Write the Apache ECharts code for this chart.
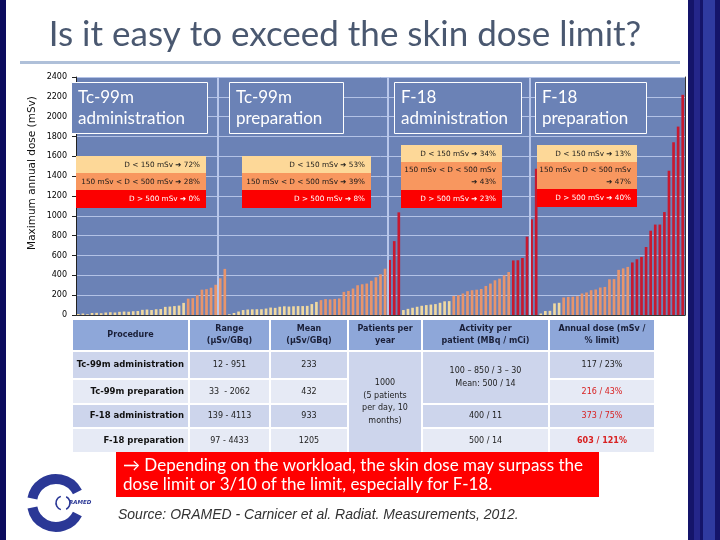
<!DOCTYPE html>
<html><head><meta charset="utf-8">
<script src="https://cdn.jsdelivr.net/npm/echarts@6/dist/echarts.min.js"></script>
<style>html,body{margin:0;padding:0;background:#fff}#c{width:720px;height:540px}</style>
</head><body><div id="c"></div>
<script>
// ---------------- DATA ----------------
const titleText = 'Is it easy to exceed the skin dose limit?';
const yAxisName = 'Maximum annual dose (mSv)';
const groupNames = ['Tc-99m\nadministration', 'Tc-99m\npreparation', 'F-18\nadministration', 'F-18\npreparation'];

const tcAdminValues = [10, 15, 8, 20, 22, 18, 25, 28, 25, 32, 35, 33, 38, 40, 52, 55, 50, 58, 60, 82, 85, 90, 95, 122,
  165, 170, 200, 255, 260, 275, 305, 370, 465];
const tcPrepValues = [8, 20, 35, 50, 55, 57, 58, 58, 65, 75, 72, 83, 88, 85, 88, 90, 90, 92, 110, 132,
  150, 160, 157, 162, 167, 233, 243, 267, 300, 310, 317, 345, 380, 410, 467,
  555, 745, 1035];
const f18AdminValues = [50, 62, 73, 83, 93, 100, 105, 110, 123, 138, 140,
  193, 200, 217, 240, 250, 255, 262, 293, 317, 350, 367, 400, 433,
  550, 552, 575, 790, 965, 1475];
const f18PrepValues = [15, 40, 42, 117, 123,
  177, 183, 185, 190, 217, 227, 250, 257, 277, 283, 360, 362, 455, 470, 485,
  530, 562, 586, 686, 850, 912, 912, 1038, 1455, 1742, 1900, 2220];

const doseThresholds = [150, 500];
const pctLabels = [
  ['D < 150 mSv ➔ 72%', '150 mSv < D < 500 mSv ➔ 28%', 'D > 500 mSv ➔ 0%'],
  ['D < 150 mSv ➔ 53%', '150 mSv < D < 500 mSv ➔ 39%', 'D > 500 mSv ➔ 8%'],
  ['D < 150 mSv ➔ 34%', '150 mSv < D < 500 mSv\n➔ 43%', 'D > 500 mSv ➔ 23%'],
  ['D < 150 mSv ➔ 13%', '150 mSv < D < 500 mSv\n➔ 47%', 'D > 500 mSv ➔ 40%']
];

const tableHeader = ['Procedure', 'Range\n(µSv/GBq)', 'Mean\n(µSv/GBq)', 'Patients per\nyear', 'Activity per\npatient (MBq / mCi)', 'Annual dose (mSv /\n% limit)'];
const procedures = ['Tc-99m administration', 'Tc-99m preparation', 'F-18 administration', 'F-18 preparation'];
const ranges = ['12 - 951', '33  - 2062', '139 - 4113', '97 - 4433'];
const means = ['233', '432', '933', '1205'];
const patientsText = '1000\n(5 patients\nper day, 10\nmonths)';
const activityText = ['100 – 850 / 3 – 30\nMean: 500 / 14', '400 / 11', '500 / 14'];
const annualDose = ['117 / 23%', '216 / 43%', '373 / 75%', '603 / 121%'];

const noteText = '→ Depending on the workload, the skin dose may surpass the\ndose limit or 3/10 of the limit, especially for F-18.';
const sourceText = 'Source: ORAMED - Carnicer et al. Radiat. Measurements, 2012.';
const separatorIdx = [31, 68, 99];

// ---------------- BUILD ----------------
const allValues = [].concat(tcAdminValues, tcPrepValues, f18AdminValues, f18PrepValues);
const categories = allValues.map((_, i) => String(i + 1));
function barColor(v) { return v > doseThresholds[1] ? '#c8192f' : (v >= doseThresholds[0] ? '#e8956c' : '#f1d9a0'); }
const barData = allValues.map(v => ({ value: v, itemStyle: { color: barColor(v) } }));

const PLOT_BG = '#6b82b6';
const g = [];
// borders
g.push({ type: 'rect', shape: { x: 0, y: 0, width: 6, height: 540 }, style: { fill: '#0c0c5e' }, z: 100 });
g.push({ type: 'rect', shape: { x: 688, y: 0, width: 32, height: 540 }, style: { fill: '#14146a' }, z: 100 });
g.push({ type: 'rect', shape: { x: 694, y: 0, width: 6, height: 540 }, style: { fill: '#24268a' }, z: 100 });
g.push({ type: 'rect', shape: { x: 703, y: 0, width: 12, height: 540 }, style: { fill: '#2f3aa0' }, z: 100 });
// title
g.push({ type: 'text', x: 345, y: 35, style: { text: titleText, fill: '#4a5870', font: '35px Lato', align: 'center', verticalAlign: 'middle' }, z: 100 });
g.push({ type: 'rect', shape: { x: 20, y: 61, width: 660, height: 3 }, style: { fill: '#afc0d9' }, z: 100 });
// y axis name
g.push({ type: 'text', x: 32, y: 173, rotation: Math.PI / 2, style: { text: yAxisName, fill: '#111', font: '10.5px "DejaVu Sans"', align: 'center', verticalAlign: 'middle' }, z: 100 });
// group label boxes
const gBoxes = [[71, 136], [229, 114], [394, 127], [535, 111]];
gBoxes.forEach((b, i) => {
  g.push({ type: 'rect', shape: { x: b[0] + 0.5, y: 82.5, width: b[1], height: 51 }, style: { fill: PLOT_BG, stroke: '#ffffff', lineWidth: 1 }, z: 100 });
  g.push({ type: 'text', x: b[0] + 7, y: 87, style: { text: groupNames[i], fill: '#fff', font: '17px Lato', lineHeight: 21, align: 'left', verticalAlign: 'top' }, z: 101 });
});
// percentage boxes
const pctBoxes = [
  { x: 76, w: 130, rows: [156, 173, 190, 208] },
  { x: 242, w: 129, rows: [156, 173, 190, 208] },
  { x: 401, w: 101, rows: [145, 162, 190, 208] },
  { x: 537, w: 100, rows: [145, 162, 189, 207] }
];
const rowFills = ['#fdd898', '#f8975f', '#fc0000'];
const rowText = ['#1a1a1a', '#1a1a1a', '#ffffff'];
pctBoxes.forEach((b, i) => {
  for (let r = 0; r < 3; r++) {
    const y0 = b.rows[r], y1 = b.rows[r + 1];
    g.push({ type: 'rect', shape: { x: b.x, y: y0, width: b.w, height: y1 - y0 }, style: { fill: rowFills[r] }, z: 100 });
    g.push({ type: 'text', x: b.x + b.w - 6, y: (y0 + y1) / 2 + 0.5, style: { text: pctLabels[i][r], fill: rowText[r], font: '7.3px "DejaVu Sans"', lineHeight: 12, align: 'right', verticalAlign: 'middle' }, z: 101 });
  }
});
// table
const cols = [{ x: 73, w: 115 }, { x: 190, w: 79 }, { x: 271, w: 76 }, { x: 349, w: 72 }, { x: 423, w: 125 }, { x: 550, w: 104 }];
const rows = [{ y: 320, h: 30 }, { y: 352, h: 26 }, { y: 380, h: 23 }, { y: 405, h: 22 }, { y: 429, h: 23 }];
const HDR = '#8ea7d9', DARK = '#cdd5ec', LIGHT = '#e6eaf5';
function cell(c0, c1, r0, r1, fill, text, color, font, align) {
  const x = cols[c0].x, w = cols[c1].x + cols[c1].w - x;
  const y = rows[r0].y, h = rows[r1].y + rows[r1].h - y;
  g.push({ type: 'rect', shape: { x: x, y: y, width: w, height: h }, style: { fill: fill }, z: 100 });
  if (text) {
    const tx = align === 'right' ? x + w - 4 : x + w / 2;
    g.push({ type: 'text', x: tx, y: y + h / 2, style: { text: text, fill: color, font: font, lineHeight: align === 'multi' ? 12.5 : 12, align: align === 'right' ? 'right' : 'center', verticalAlign: 'middle' }, z: 101 });
  }
}
tableHeader.forEach((t, i) => cell(i, i, 0, 0, HDR, t, '#1a1f38', 'bold 8px "DejaVu Sans"'));
for (let r = 0; r < 4; r++) {
  const f = r % 2 === 0 ? DARK : LIGHT;
  cell(0, 0, r + 1, r + 1, f, procedures[r], '#111', 'bold 8.5px "DejaVu Sans"', 'right');
  cell(1, 1, r + 1, r + 1, f, ranges[r], '#222', '8px "DejaVu Sans"');
  cell(2, 2, r + 1, r + 1, f, means[r], '#222', '8px "DejaVu Sans"');
  const isRed = r > 0;
  cell(5, 5, r + 1, r + 1, f, annualDose[r], isRed ? '#d82020' : '#222', (r === 3 ? 'bold ' : '') + '8px "DejaVu Sans"');
}
cell(3, 3, 1, 4, DARK, patientsText, '#222', '8px "DejaVu Sans"', 'multi');
cell(4, 4, 1, 2, DARK, activityText[0], '#222', '8px "DejaVu Sans"', 'multi');
cell(4, 4, 3, 3, DARK, activityText[1], '#222', '8px "DejaVu Sans"');
cell(4, 4, 4, 4, LIGHT, activityText[2], '#222', '8px "DejaVu Sans"');
// note box
g.push({ type: 'rect', shape: { x: 116, y: 452, width: 483, height: 45 }, style: { fill: '#ff0000' }, z: 100 });
g.push({ type: 'text', x: 123, y: 475, style: { text: noteText, fill: '#fff', font: '17px Lato', lineHeight: 19, align: 'left', verticalAlign: 'middle' }, z: 101 });
// source
g.push({ type: 'text', x: 118, y: 515, style: { text: sourceText, fill: '#333', font: 'italic 14px "Liberation Sans"', align: 'left', verticalAlign: 'middle' }, z: 100 });
// logo
const LC = '#2b3896';
g.push({ type: 'arc', shape: { cx: 56, cy: 503, r: 24, startAngle: Math.PI * 1.06, endAngle: Math.PI * 1.85 }, style: { stroke: LC, lineWidth: 10, fill: null }, z: 100 });
g.push({ type: 'arc', shape: { cx: 56, cy: 503, r: 24, startAngle: Math.PI * 0.15, endAngle: Math.PI * 0.94 }, style: { stroke: LC, lineWidth: 10, fill: null }, z: 100 });
g.push({ type: 'arc', shape: { cx: 63, cy: 503, r: 7, startAngle: Math.PI * 0.6, endAngle: Math.PI * 1.4 }, style: { stroke: LC, lineWidth: 1.5, fill: null }, z: 100 });
g.push({ type: 'arc', shape: { cx: 63, cy: 503, r: 7, startAngle: -Math.PI * 0.35, endAngle: Math.PI * 0.35 }, style: { stroke: LC, lineWidth: 1.5, fill: null }, z: 100 });
g.push({ type: 'text', x: 69, y: 503, style: { text: 'RAMED', fill: LC, font: 'italic bold 5.5px "DejaVu Sans"', align: 'left', verticalAlign: 'middle' }, z: 101 });

const chart = echarts.init(document.getElementById('c'), null, { renderer: 'canvas' });
chart.setOption({
  animation: false,
  backgroundColor: '#ffffff',
  grid: { left: 76, right: 35, top: 77, bottom: 225, show: true, backgroundColor: PLOT_BG, borderWidth: 0 },
  xAxis: [
    { type: 'category', data: categories, axisLabel: { show: false }, axisTick: { show: false }, axisLine: { show: true, lineStyle: { color: '#333', width: 1 } }, splitLine: { show: false } },
    { type: 'value', min: 0, max: allValues.length, show: false }
  ],
  yAxis: [
    { type: 'value', min: 0, max: 2400, interval: 200,
      axisLine: { show: true, lineStyle: { color: '#222' } },
      axisTick: { show: true, length: 4, lineStyle: { color: '#222' } },
      axisLabel: { color: '#000', fontSize: 8, fontFamily: 'DejaVu Sans', margin: 9, formatter: v => String(v) },
      splitLine: { show: true, lineStyle: { color: '#b3c2e6', width: 1 } } },
    { type: 'value', min: 0, max: 2400, position: 'right', axisLine: { show: true, lineStyle: { color: '#333' } }, axisLabel: { show: false }, axisTick: { show: false }, splitLine: { show: false } }
  ],
  series: [
    { type: 'scatter', xAxisIndex: 1, yAxisIndex: 0, data: [[0, 0]], symbolSize: 0, silent: true, z: 1,
      markLine: { silent: true, symbol: 'none', label: { show: false }, lineStyle: { color: '#b8c6ea', width: 2, type: 'solid' },
        data: separatorIdx.map(v => ({ xAxis: v })) } },
    { type: 'bar', xAxisIndex: 0, yAxisIndex: 0, data: barData, barWidth: '58%', z: 2 }
  ],
  graphic: { elements: g }
});
</script></body></html>
